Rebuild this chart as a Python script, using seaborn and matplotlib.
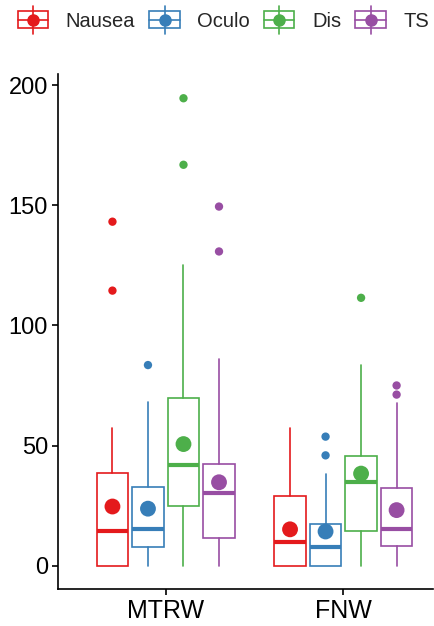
import numpy as np
import pandas as pd
import matplotlib.pyplot as plt
import seaborn as sns
from matplotlib.legend_handler import HandlerBase
from matplotlib.patches import Rectangle
from matplotlib.lines import Line2D

sns.set_theme(style="ticks")
plt.rcParams['font.family'] = ['Liberation Sans', 'DejaVu Sans']

# Data
groups = ["MTRW", "FNW"]
symptoms = ["Nausea", "Oculo", "Dis", "TS"]
colors = ["#E41A1C", "#377EB8", "#4DAF4A", "#984EA3"]

whislo = [[0, 0, 0, 0], [0, 0, 0, 0]]
q1 = [[0, 7.9, 24.9, 11.6], [0, 0, 14.2, 8.0]]
med = [[14.5, 15.4, 41.8, 30.3], [9.8, 7.9, 35.0, 15.2]]
q3 = [[38.6, 32.7, 69.8, 42.3], [29.0, 17.4, 45.5, 32.1]]
whishi = [[57.3, 68.2, 125.3, 85.9], [57.3, 38.2, 83.5, 67.5]]
means = [[24.6, 23.7, 50.6, 34.7], [15.1, 14.2, 38.3, 23.1]]
fliers = [[[143.2, 114.5], [83.5], [194.6, 166.9], [149.5, 130.8]],
          [[], [53.7, 45.9], [111.5], [75.0, 71.2]]]

dodge = 0.2
box_w = 0.177

fig = plt.figure(figsize=(4.34, 6.26), dpi=100)
ax = fig.add_axes([0.1343, 0.0591, 0.8634, 0.8227])

mean_rows = []
flier_rows = []
for gi, g in enumerate(groups):
    for si, s in enumerate(symptoms):
        pos = gi + (si - 1.5) * dodge
        stats = [dict(whislo=whislo[gi][si], q1=q1[gi][si], med=med[gi][si],
                      q3=q3[gi][si], whishi=whishi[gi][si], fliers=[])]
        c = colors[si]
        ax.bxp(stats, positions=[pos], widths=box_w, showfliers=False,
               showcaps=False, patch_artist=True,
               boxprops=dict(facecolor="white", edgecolor=c, linewidth=1.2),
               whiskerprops=dict(color=c, linewidth=1.2),
               medianprops=dict(color=c, linewidth=3, solid_capstyle="butt"),
               manage_ticks=False)
        mean_rows.append(dict(x=pos, y=means[gi][si], symptom=s))
        for f in fliers[gi][si]:
            flier_rows.append(dict(x=pos, y=f, symptom=s))

pal = dict(zip(symptoms, colors))
sns.scatterplot(data=pd.DataFrame(flier_rows), x="x", y="y", hue="symptom",
                palette=pal, s=36, linewidth=0, legend=False, ax=ax, zorder=4)
sns.scatterplot(data=pd.DataFrame(mean_rows), x="x", y="y", hue="symptom",
                palette=pal, s=130, linewidth=0, legend=False, ax=ax, zorder=5)

ax.set_xlim(-0.605, 1.505)
ax.set_ylim(-9.75, 204.7)
ax.set_xticks(range(len(groups)))
ax.set_xticklabels(groups, fontsize=18)
ax.set_yticks([0, 50, 100, 150, 200])
ax.tick_params(axis="y", labelsize=17, length=4, width=1.2, color="black", labelcolor="black")
ax.tick_params(axis="x", length=4, width=1.2, color="black", labelcolor="black")
ax.set_xlabel("")
ax.set_ylabel("")
for side in ["top", "right"]:
    ax.spines[side].set_visible(False)
for side in ["left", "bottom"]:
    ax.spines[side].set_color("black")
    ax.spines[side].set_linewidth(1.2)


class BoxKey(HandlerBase):
    def create_artists(self, legend, orig_handle, xdescent, ydescent,
                       width, height, fontsize, trans):
        c = orig_handle.get_color()
        x0, y0 = -xdescent, -ydescent
        cx, cy = x0 + width / 2, y0 + height / 2
        rect = Rectangle((x0, y0), width, height, facecolor="white",
                         edgecolor=c, linewidth=1.2, transform=trans)
        hl = Line2D([x0, x0 + width], [cy, cy], color=c, linewidth=1.2, transform=trans)
        vl = Line2D([cx, cx], [y0 - 0.3 * height, y0 + 1.3 * height], color=c,
                    linewidth=1.2, transform=trans)
        dot = Line2D([cx], [cy], marker="o", markersize=8, color=c,
                     linestyle="", transform=trans)
        return [rect, hl, vl, dot]


handles = [Line2D([], [], color=c) for c in colors]
fig.legend(handles, symptoms, handler_map={Line2D: BoxKey()}, loc="upper center",
           bbox_to_anchor=(0.515, 1.0), ncol=4, frameon=False, fontsize=14.5,
           handlelength=1.5, handleheight=0.95, handletextpad=0.88,
           columnspacing=0.7, borderaxespad=0.15)

fig.savefig("out.png", dpi=100)
